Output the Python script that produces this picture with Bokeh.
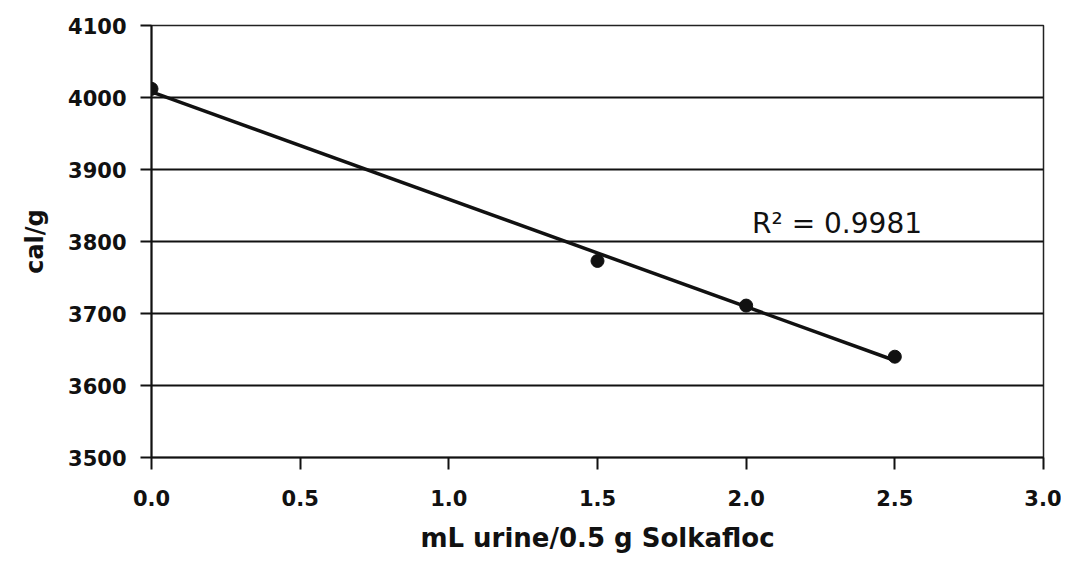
import numpy as np
from bokeh.plotting import figure
from bokeh.models import Range1d, FixedTicker, CustomJSTickFormatter, Label
from bokeh.embed import file_html
from bokeh.resources import INLINE

# Data
urine_ml = [0.0, 1.5, 2.0, 2.5]
cal_per_g = [4012, 3773, 3711, 3640]
r2_text = "R\u00b2 = 0.9981"
x_ticks = [0.0, 0.5, 1.0, 1.5, 2.0, 2.5, 3.0]
y_ticks = [3500, 3600, 3700, 3800, 3900, 4000, 4100]

# Linear trendline from the data
slope, intercept = np.polyfit(urine_ml, cal_per_g, 1)
fit_x = [min(urine_ml), max(urine_ml)]
fit_y = [intercept + slope * v for v in fit_x]

p = figure(width=1061, height=555, output_backend="svg", toolbar_location=None,
           x_range=Range1d(0, 3), y_range=Range1d(3500, 4100),
           min_border_left=151, min_border_right=18, min_border_top=25,
           min_border_bottom=98)
p.background_fill_color = "white"
p.border_fill_color = "white"
p.outline_line_color = "#222222"
p.outline_line_width = 1.5

p.xgrid.visible = False
p.ygrid.ticker = FixedTicker(ticks=y_ticks)
p.ygrid.grid_line_color = "#111111"
p.ygrid.grid_line_width = 2

p.xaxis.ticker = FixedTicker(ticks=x_ticks)
p.yaxis.ticker = FixedTicker(ticks=y_ticks)
p.xaxis.formatter = CustomJSTickFormatter(code="return tick.toFixed(1);")
p.yaxis.formatter = CustomJSTickFormatter(code="return tick.toFixed(0);")

for ax in (p.xaxis, p.yaxis):
    ax.axis_line_color = "#111111"
    ax.axis_line_width = 2
    ax.major_tick_line_color = "#111111"
    ax.major_tick_line_width = 2
    ax.major_tick_in = 0
    ax.minor_tick_line_color = None
    ax.major_label_text_font = "DejaVu Sans"
    ax.major_label_text_font_style = "bold"
    ax.major_label_text_font_size = "21px"
    ax.major_label_text_color = "#111111"
    ax.axis_label_text_font = "DejaVu Sans"
    ax.axis_label_text_font_style = "bold"
    ax.axis_label_text_color = "#111111"

p.xaxis.major_tick_out = 12
p.xaxis.major_label_standoff = 20
p.xaxis.axis_label = "mL urine/0.5 g Solkafloc"
p.xaxis.axis_label_text_font_size = "26px"
p.xaxis.axis_label_standoff = 14

p.yaxis.major_tick_out = 11
p.yaxis.major_label_standoff = 14
p.yaxis.axis_label = "cal/g"
p.yaxis.axis_label_text_font_size = "24px"
p.yaxis.axis_label_standoff = 16

p.line(fit_x, fit_y, line_color="#111111", line_width=3.5)
p.scatter(urine_ml, cal_per_g, size=13, marker="circle",
          fill_color="#111111", line_color="#111111")

lab = Label(x=2.02, y=3825, text=r2_text, text_font="DejaVu Sans",
            text_font_size="28px", text_color="#111111",
            text_baseline="alphabetic", text_align="left")
p.add_layout(lab)

open("out.html", "w").write(file_html(p, INLINE))
